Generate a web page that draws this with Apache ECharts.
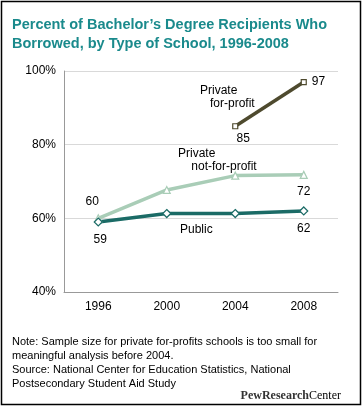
<!DOCTYPE html>
<html><head><meta charset="utf-8">
<script src="https://cdn.jsdelivr.net/npm/echarts@6/dist/echarts.min.js"></script>
<style>html,body{margin:0;padding:0;background:#fff}#c{width:363px;height:408px}</style>
</head><body><div id="c"></div>
<script>
const years = ['1996','2000','2004','2008'];
const publicVals = [59, 61.3, 61.3, 62];
const nonprofitVals = [60, 67.7, 71.6, 71.8];
const forprofitVals = [null, null, 85, 97];
const publicLabels = ['59', null, null, '62'];
const nonprofitLabels = ['60', null, null, '72'];
const forprofitLabels = [null, null, '85', '97'];
const yTicks = [40, 60, 80, 100];

const FONT = 'Liberation Sans';
const chart = echarts.init(document.getElementById('c'), null, {renderer:'canvas'});

function mk(vals, labels, posArr, offArr){
  return vals.map((v,i)=>{
    const o = {value: v};
    if (labels[i]) o.label = {show:true, formatter: labels[i], position: posArr[i], offset: offArr[i] || [0,0], color:'#000', fontSize:12, fontFamily: FONT};
    else o.label = {show:false};
    return o;
  });
}

chart.setOption({
  animation:false,
  grid:{left:64, right:25, top:71, bottom:116},
  xAxis:{type:'category', data:years, boundaryGap:true,
    axisLine:{lineStyle:{color:'#999'}}, axisTick:{inside:true, length:4, lineStyle:{color:'#999'}},
    axisLabel:{color:'#000', fontSize:12, fontFamily:FONT, margin:9}},
  yAxis:{type:'value', min:40, max:100, interval:20,
    axisLine:{show:true, lineStyle:{color:'#999'}}, axisTick:{show:false},
    splitLine:{lineStyle:{color:'#d9d9d9'}},
    axisLabel:{color:'#000', fontSize:12, fontFamily:FONT, margin:8, formatter:'{value}%'}},
  series:[
    {name:'Private not-for-profit', type:'line', data: mk(nonprofitVals, nonprofitLabels, ['top',null,null,'bottom'], [[-6,-2],null,null,[0,2]]),
      symbol:'triangle', symbolSize:7, lineStyle:{color:'#a9cdb7', width:3.5}, itemStyle:{color:'#fff', borderColor:'#a9cdb7', borderWidth:1.2}},
    {name:'Public', type:'line', data: mk(publicVals, publicLabels, ['bottom',null,null,'bottom'], [[2,2],null,null,[0,2]]),
      symbol:'diamond', symbolSize:8, lineStyle:{color:'#1b6b66', width:3.5}, itemStyle:{color:'#fff', borderColor:'#1b6b66', borderWidth:1.2}},
    {name:'Private for-profit', type:'line', data: mk(forprofitVals, forprofitLabels, [null,null,'bottom','right'], [null,null,[8,-2],[0,0]]),
      symbol:'rect', symbolSize:5, lineStyle:{color:'#4e4a2e', width:3.5}, itemStyle:{color:'#fff', borderColor:'#4e4a2e', borderWidth:1.2}}
  ],
  graphic:[
    {type:'rect', shape:{x:1.5, y:1.5, width:359, height:403}, style:{fill:null, stroke:'#000', lineWidth:1.5}, z:100},
    {type:'text', left:12, top:15, style:{text:"Percent of Bachelor\u2019s Degree Recipients Who\nBorrowed, by Type of School, 1996-2008", fill:'#1a8a8c', font:'bold 14.5px '+FONT, lineHeight:19}},
    {type:'text', left:200, top:84, style:{text:'Private\n   for-profit', fill:'#000', font:'12px '+FONT, lineHeight:13}},
    {type:'text', left:178, top:147, style:{text:'Private\n    not-for-profit', fill:'#000', font:'12px '+FONT, lineHeight:13}},
    {type:'text', left:180, top:224, style:{text:'Public', fill:'#000', font:'12px '+FONT}},
    {type:'text', left:12, top:335, style:{text:'Note: Sample size for private for-profits schools is too small for\nmeaningful analysis before 2004.\nSource: National Center for Education Statistics, National\nPostsecondary Student Aid Study', fill:'#000', font:'11px '+FONT, lineHeight:14}},
    {type:'text', right:22, top:390, style:{text:'{a|PewResearch}{b|Center}', rich:{
      a:{fill:'#333', font:'bold 12px "Liberation Serif"', fontFamily:'Liberation Serif', fontWeight:'bold', fontSize:12, color:'#333'},
      b:{fontFamily:'Liberation Serif', fontSize:12, color:'#999'}}}}
  ]
});
</script></body></html>
